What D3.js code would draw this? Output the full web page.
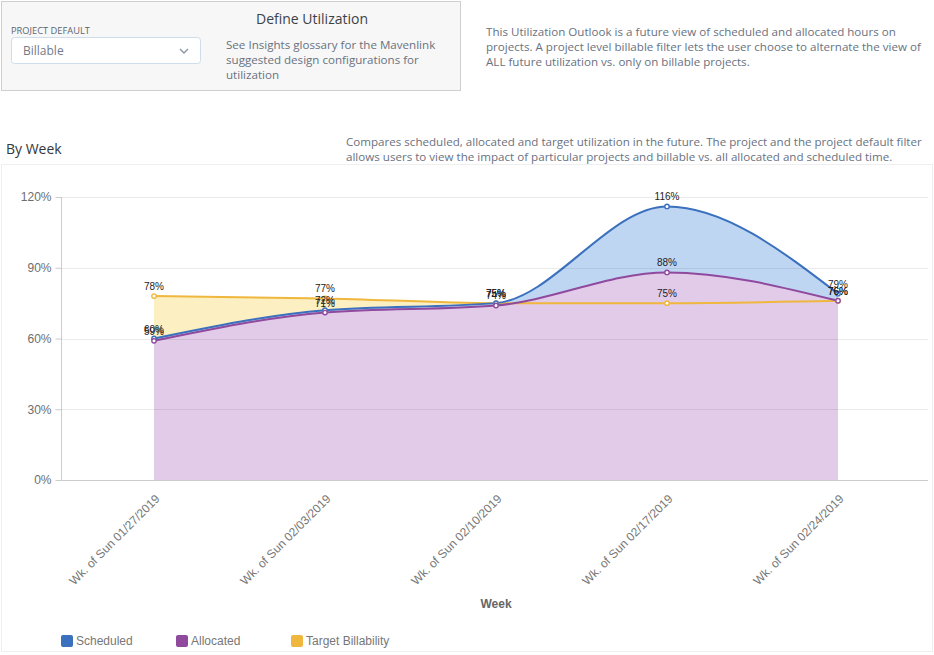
<!DOCTYPE html>
<html>
<head>
<meta charset="utf-8">
<script src="https://cdn.jsdelivr.net/npm/d3@7"></script>
<style>
  html, body { margin: 0; padding: 0; background: #fff; }
  svg { display: block; }
  .note { font-family: "Open Sans", sans-serif; font-size: 11.6px; fill: #69727f; }
  .chart-text { font-family: "Liberation Sans", sans-serif; }
</style>
</head>
<body>
<svg id="chart" width="934" height="655"></svg>
<script>
const weeks = [
  "Wk. of Sun 01/27/2019",
  "Wk. of Sun 02/03/2019",
  "Wk. of Sun 02/10/2019",
  "Wk. of Sun 02/17/2019",
  "Wk. of Sun 02/24/2019"
];
const scheduled = [60, 72, 75, 116, 79];
const allocated = [59, 71, 74, 88, 76];
const target = [78, 77, 75, 75, 76];
const yTicks = [0, 30, 60, 90, 120];

const seriesNames = ["Scheduled", "Allocated", "Target Billability"];
const colors = { line: ["#3a70bd", "#8f4a9e", "#efb73e"], fill: ["#bfd6f3", "#e2cbe8", "#fcefc2"] };

const panelLines = [
  "See Insights glossary for the Mavenlink",
  "suggested design configurations for",
  "utilization"
];
const introLines = [
  "This Utilization Outlook is a future view of scheduled and allocated hours on",
  "projects. A project level billable filter lets the user choose to alternate the view of",
  "ALL future utilization vs. only on billable projects."
];
const compareLines = [
  "Compares scheduled, allocated and target utilization in the future. The project and the project default filter",
  "allows users to view the impact of particular projects and billable vs. all allocated and scheduled time."
];

const svg = d3.select("#chart");

// top panel
svg.append("rect").attr("x", 1.5).attr("y", 1.5).attr("width", 459).attr("height", 89)
  .attr("fill", "#f7f7f7").attr("stroke", "#cfcfcf");
svg.append("text").attr("x", 11).attr("y", 33.5)
  .style("font", "9.3px 'Open Sans', sans-serif").attr("fill", "#5c6570").text("PROJECT DEFAULT");
svg.append("rect").attr("x", 11.5).attr("y", 37.5).attr("width", 189).attr("height", 26).attr("rx", 3)
  .attr("fill", "#fff").attr("stroke", "#cfdcea");
svg.append("text").attr("x", 23).attr("y", 55)
  .style("font", "12px 'Open Sans', sans-serif").attr("fill", "#717c8a").text("Billable");
svg.append("path").attr("d", "M180 49 L184 53 L188 49").attr("fill", "none")
  .attr("stroke", "#8b95a1").attr("stroke-width", 1.4);
svg.append("text").attr("x", 312).attr("y", 24).attr("text-anchor", "middle")
  .style("font", "14px 'Open Sans', sans-serif").attr("fill", "#3c4248").text("Define Utilization");
svg.selectAll(".panel-line").data(panelLines).join("text").attr("class", "note")
  .attr("x", 226).attr("y", (d, i) => 49 + i * 15).text(d => d);
svg.selectAll(".intro-line").data(introLines).join("text").attr("class", "note")
  .attr("x", 486).attr("y", (d, i) => 36 + i * 15).text(d => d);
svg.selectAll(".compare-line").data(compareLines).join("text").attr("class", "note")
  .attr("x", 346).attr("y", (d, i) => 146 + i * 15).text(d => d);
svg.append("text").attr("x", 6).attr("y", 154)
  .style("font", "14px 'Open Sans', sans-serif").attr("fill", "#33383d").text("By Week");

// chart frame
svg.append("rect").attr("x", 1.5).attr("y", 164.5).attr("width", 931).attr("height", 487)
  .attr("fill", "#fff").attr("stroke", "#efefef");

const x = d3.scalePoint().domain(weeks).range([154, 838]);
const y = d3.scaleLinear().domain([0, 120]).range([480, 197]);

const rows = [scheduled, allocated, target].map((values, s) =>
  values.map((v, i) => ({ week: weeks[i], value: v, s })));

const area = d3.area().x(d => x(d.week)).y0(y(0)).y1(d => y(d.value)).curve(d3.curveMonotoneX);
const line = area.lineY1();

// target sits behind, allocated on top
const g = svg.append("g");
[2, 0, 1].forEach(s => {
  g.append("path").attr("d", area(rows[s])).attr("fill", colors.fill[s]);
});

const yAxis = d3.axisLeft(y).tickValues(yTicks).tickFormat(d => d + "%").tickSize(6).tickPadding(4);
const yG = svg.append("g").attr("class", "chart-text").attr("transform", "translate(61.5,0)").call(yAxis);
yG.select(".domain").attr("stroke", "#cccccc").attr("d", "M0,197V480");
yG.selectAll(".tick line").attr("stroke", "#cccccc");
yG.selectAll(".tick text").attr("fill", "#6e6e6e").style("font-size", "12px");

// grid shows through the fills
svg.append("g").selectAll("line").data(yTicks.filter(d => d > 0)).join("line")
  .attr("x1", 61.5).attr("x2", 928)
  .attr("y1", d => Math.round(y(d)) + 0.5).attr("y2", d => Math.round(y(d)) + 0.5)
  .attr("stroke", "#000").attr("stroke-opacity", 0.08);

const xAxis = d3.axisBottom(x).tickSize(0).tickPadding(0);
const xG = svg.append("g").attr("class", "chart-text").attr("transform", "translate(0,480.5)").call(xAxis);
xG.select(".domain").attr("stroke", "#cccccc").attr("d", "M61.5,0H928");
xG.selectAll(".tick text")
  .attr("text-anchor", "end").attr("fill", "#777777").style("font-size", "12px")
  .attr("y", 0).attr("dy", 0)
  .attr("transform", "translate(6,19) rotate(-45)");

svg.append("text").attr("class", "chart-text").attr("x", 496).attr("y", 608).attr("text-anchor", "middle")
  .style("font-size", "12px").style("font-weight", "bold").attr("fill", "#666666").text("Week");

[2, 0, 1].forEach(s => {
  g.append("path").attr("d", line(rows[s])).attr("fill", "none")
    .attr("stroke", colors.line[s]).attr("stroke-width", 2);
});
[2, 0, 1].forEach(s => {
  g.selectAll(".dot" + s).data(rows[s]).join("circle").attr("class", "dot" + s)
    .attr("cx", d => x(d.week)).attr("cy", d => y(d.value)).attr("r", 2.2)
    .attr("fill", "#fff").attr("stroke", colors.line[s]).attr("stroke-width", 1.4);
});
[2, 0, 1].forEach(s => {
  g.selectAll(".lab" + s).data(rows[s]).join("text").attr("class", "lab" + s + " chart-text")
    .attr("x", d => x(d.week)).attr("y", d => y(d.value) - 6).attr("text-anchor", "middle")
    .style("font-size", "10px").attr("fill", "#222").text(d => d.value + "%");
});

// legend
const legendX = d3.scaleOrdinal().domain(seriesNames).range([61, 176, 291]);
const legend = svg.append("g").selectAll("g").data(seriesNames).join("g")
  .attr("transform", d => `translate(${legendX(d)},635)`);
legend.append("rect").attr("width", 12).attr("height", 12).attr("rx", 2)
  .attr("fill", (d, i) => colors.line[i]);
legend.append("text").attr("class", "chart-text").attr("x", 15).attr("y", 10)
  .style("font-size", "12px").attr("fill", "#777777").text(d => d);
</script>
</body>
</html>
